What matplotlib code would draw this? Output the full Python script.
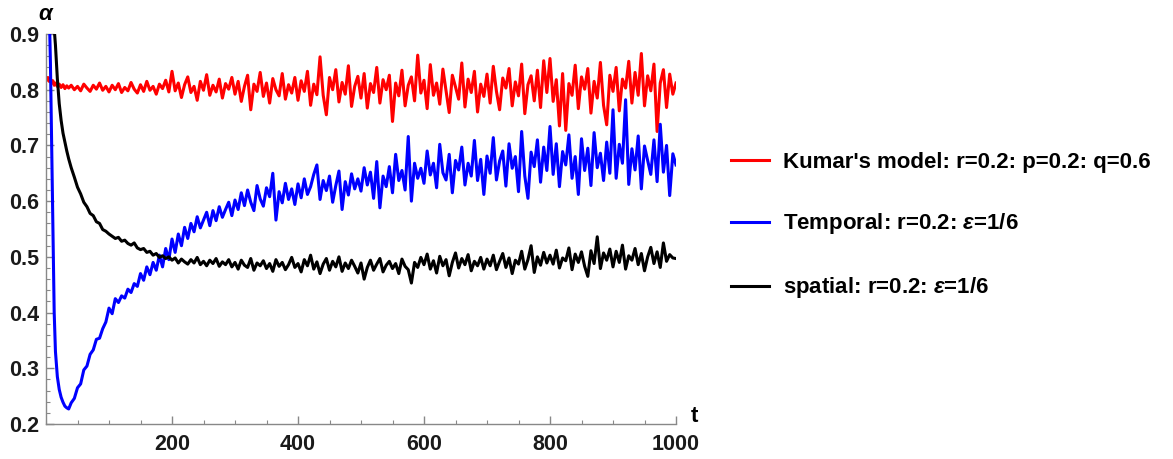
import numpy as np
import matplotlib
matplotlib.use("Agg")
import matplotlib.pyplot as plt
from matplotlib.ticker import MultipleLocator

plt.rcParams['font.family'] = ['Liberation Sans', 'DejaVu Sans']
plt.rcParams['font.weight'] = 'bold'
plt.rcParams['mathtext.fontset'] = 'custom'
plt.rcParams['mathtext.it'] = 'Liberation Sans:italic:bold'
plt.rcParams['mathtext.rm'] = 'Liberation Sans:bold'

# time steps: fine start, then every 5 steps up to 1000
t_head = [1, 3, 5, 7, 9, 11, 13, 15, 18, 21, 24, 27, 30, 33, 36]
t_body = list(range(40, 1001, 5))
t = np.array(t_head + t_body)

# Kumar's model (red)
kumar = [
    0.818, 0.822, 0.815, 0.820, 0.812, 0.816, 0.808, 0.812, 0.806, 0.810, 0.804, 0.809, 0.802, 0.807, 0.803,
    0.808, 0.800, 0.806, 0.798, 0.810, 0.803, 0.797, 0.808, 0.801, 0.812, 0.799, 0.806,
    0.796, 0.808, 0.800, 0.811, 0.795, 0.804, 0.798, 0.813, 0.801, 0.794, 0.809, 0.797, 0.815, 0.799, 0.806, 0.792, 0.810, 0.802, 0.817, 0.796,
    0.833, 0.798, 0.812, 0.786, 0.809, 0.823, 0.795, 0.806, 0.781, 0.815, 0.799, 0.827, 0.790, 0.808, 0.796, 0.819, 0.785, 0.811, 0.801, 0.822,
    0.792, 0.815, 0.779, 0.806, 0.826, 0.764, 0.810, 0.797, 0.831, 0.788, 0.812, 0.776, 0.820, 0.800, 0.789, 0.829, 0.783, 0.809, 0.794, 0.822,
    0.781, 0.816, 0.797, 0.833, 0.772, 0.810, 0.791, 0.859, 0.790, 0.755, 0.822, 0.800, 0.836, 0.778, 0.813, 0.792, 0.843, 0.770, 0.806, 0.824,
    0.785, 0.829, 0.767, 0.811, 0.795, 0.840, 0.776, 0.818, 0.800, 0.826, 0.743, 0.812, 0.789, 0.835, 0.771, 0.808, 0.823, 0.780, 0.862, 0.794,
    0.817, 0.766, 0.845, 0.790, 0.812, 0.774, 0.837, 0.798, 0.759, 0.826, 0.805, 0.783, 0.848, 0.769, 0.819, 0.795, 0.833, 0.760, 0.810, 0.788,
    0.828, 0.776, 0.842, 0.797, 0.764, 0.821, 0.803, 0.838, 0.771, 0.814, 0.789, 0.846, 0.757, 0.809, 0.825, 0.780, 0.835, 0.768, 0.852, 0.795,
    0.856, 0.779, 0.818, 0.735, 0.829, 0.727, 0.811, 0.790, 0.844, 0.766, 0.823, 0.801, 0.838, 0.758, 0.815, 0.785, 0.849, 0.772, 0.737, 0.826,
    0.797, 0.840, 0.762, 0.819, 0.803, 0.851, 0.776, 0.831, 0.790, 0.865, 0.771, 0.825, 0.798, 0.846, 0.725, 0.812, 0.836, 0.768, 0.828, 0.792,
    0.812,
]

# Temporal (blue)
temporal = [
    1.200, 1.100, 0.950, 0.850, 0.700, 0.550, 0.400, 0.330, 0.285, 0.262, 0.248, 0.239, 0.232, 0.229, 0.227,
    0.238, 0.246, 0.265, 0.272, 0.297, 0.304, 0.325, 0.333, 0.352, 0.354, 0.371, 0.383,
    0.408, 0.398, 0.425, 0.418, 0.430, 0.426, 0.442, 0.436, 0.452, 0.447, 0.470, 0.458, 0.482, 0.468, 0.490, 0.476, 0.503, 0.482, 0.515, 0.495,
    0.532, 0.508, 0.541, 0.520, 0.553, 0.533, 0.560, 0.545, 0.572, 0.552, 0.566, 0.580, 0.556, 0.583, 0.565, 0.590, 0.571, 0.585, 0.598, 0.574,
    0.602, 0.585, 0.615, 0.592, 0.620, 0.598, 0.583, 0.628, 0.604, 0.591, 0.624, 0.608, 0.650, 0.566, 0.617, 0.597, 0.632, 0.603, 0.622, 0.594,
    0.631, 0.606, 0.640, 0.612, 0.626, 0.648, 0.665, 0.603, 0.637, 0.619, 0.645, 0.598, 0.628, 0.654, 0.585, 0.635, 0.611, 0.649, 0.622, 0.640,
    0.618, 0.660, 0.629, 0.652, 0.605, 0.671, 0.588, 0.645, 0.626, 0.662, 0.615, 0.684, 0.637, 0.655, 0.620, 0.716, 0.600, 0.668, 0.641, 0.659,
    0.632, 0.690, 0.647, 0.668, 0.624, 0.702, 0.651, 0.638, 0.684, 0.615, 0.673, 0.656, 0.697, 0.629, 0.668, 0.645, 0.709, 0.637, 0.675, 0.612,
    0.681, 0.650, 0.714, 0.638, 0.672, 0.690, 0.627, 0.703, 0.659, 0.680, 0.617, 0.725, 0.645, 0.605, 0.688, 0.662, 0.710, 0.634, 0.697, 0.655,
    0.734, 0.648, 0.703, 0.626, 0.689, 0.665, 0.719, 0.641, 0.680, 0.612, 0.712, 0.655, 0.695, 0.628, 0.723, 0.660, 0.686, 0.637, 0.706, 0.650,
    0.764, 0.641, 0.702, 0.668, 0.782, 0.630, 0.694, 0.656, 0.717, 0.622, 0.699, 0.673, 0.648, 0.710, 0.635, 0.738, 0.652, 0.700, 0.610, 0.685,
    0.665,
]

# spatial (black)
spatial = [
    1.500, 1.350, 1.200, 1.100, 1.000, 0.950, 0.910, 0.880, 0.820, 0.775, 0.745, 0.722, 0.706, 0.690, 0.676,
    0.660, 0.643, 0.625, 0.613, 0.598, 0.590, 0.578, 0.574, 0.563, 0.560, 0.549, 0.546,
    0.541, 0.537, 0.533, 0.535, 0.528, 0.530, 0.524, 0.521, 0.525, 0.516, 0.513, 0.515, 0.508, 0.510, 0.503, 0.506, 0.499, 0.502, 0.497, 0.500,
    0.494, 0.498, 0.489, 0.496, 0.491, 0.487, 0.495, 0.489, 0.499, 0.486, 0.492, 0.484, 0.494, 0.488, 0.497, 0.483, 0.491, 0.486, 0.495, 0.482,
    0.490, 0.478, 0.494, 0.485, 0.481, 0.497, 0.476, 0.489, 0.484, 0.493, 0.479, 0.488, 0.474, 0.495, 0.483, 0.490, 0.477, 0.486, 0.499, 0.481,
    0.488, 0.473, 0.495, 0.484, 0.503, 0.478, 0.491, 0.470, 0.487, 0.497, 0.476, 0.492, 0.482, 0.500, 0.474, 0.489, 0.479, 0.494, 0.483, 0.471,
    0.489, 0.460, 0.481, 0.494, 0.476, 0.487, 0.497, 0.473, 0.485, 0.492, 0.479, 0.488, 0.470, 0.496, 0.483, 0.477, 0.453, 0.490, 0.481, 0.499,
    0.486, 0.505, 0.478, 0.493, 0.471, 0.501, 0.484, 0.495, 0.466, 0.490, 0.507, 0.480, 0.497, 0.486, 0.504, 0.475, 0.492, 0.484, 0.499, 0.478,
    0.496, 0.484, 0.503, 0.477, 0.492, 0.506, 0.481, 0.498, 0.470, 0.494, 0.487, 0.510, 0.478, 0.495, 0.520, 0.472, 0.500, 0.485, 0.508, 0.489,
    0.503, 0.487, 0.512, 0.480, 0.498, 0.493, 0.516, 0.477, 0.505, 0.490, 0.509, 0.483, 0.465, 0.511, 0.488, 0.536, 0.479, 0.507, 0.494, 0.514,
    0.482, 0.510, 0.490, 0.521, 0.478, 0.502, 0.494, 0.515, 0.486, 0.506, 0.475, 0.500, 0.517, 0.488, 0.509, 0.481, 0.525, 0.492, 0.504, 0.498,
    0.497,
]

labels = [
    "Kumar's model: r=0.2: p=0.2: q=0.6",
    r"Temporal: r=0.2: $\varepsilon$=1/6",
    r"spatial: r=0.2: $\varepsilon$=1/6",
]
colors = ['#ff0000', '#0000ff', '#000000']

fig = plt.figure(figsize=(11.73, 4.59), dpi=100)
ax = fig.add_axes([46 / 1173, 35 / 459, 630 / 1173, 390 / 459])

for y, c, lab in zip([kumar, temporal, spatial], colors, labels):
    ax.plot(t, y, color=c, lw=2.2, label=lab)

ax.set_xlim(0, 1000)
ax.set_ylim(0.2, 0.9)
ax.xaxis.set_minor_locator(MultipleLocator(50))
ax.yaxis.set_minor_locator(MultipleLocator(0.02))
ax.set_xticks([200, 400, 600, 800, 1000])
ax.set_yticks(np.arange(0.2, 0.91, 0.1))
ax.set_yticklabels(['0.2', '0.3', '0.4', '0.5', '0.6', '0.7', '0.8', '0.9'])

for s in ['top', 'right']:
    ax.spines[s].set_visible(False)
for s in ['left', 'bottom']:
    ax.spines[s].set_color('#888888')
    ax.spines[s].set_linewidth(1.0)

ax.tick_params(which='both', direction='in', color='#888888', labelsize=15.5,
               labelcolor='#1a1a1a')
ax.tick_params(which='major', length=6, width=1.0)
ax.tick_params(which='minor', length=3, width=0.8)
ax.tick_params(axis='x', which='major', pad=7)
ax.tick_params(axis='y', which='major', pad=5)

ax.text(0.0, 1.05, r'$\alpha$', transform=ax.transAxes, fontsize=16,
        ha='center', va='center')
ax.text(1.029, 0.02, 't', transform=ax.transAxes, fontsize=16,
        ha='center', va='center', fontweight='bold')

leg = ax.legend(loc='center left', bbox_to_anchor=(731 / 1173, 1 - 226 / 459),
                bbox_transform=fig.transFigure, frameon=False, fontsize=16,
                borderpad=0, borderaxespad=0, labelspacing=1.75,
                handlelength=1.7, handletextpad=0.64)
for ln in leg.get_lines():
    ln.set_linewidth(2.2)

fig.savefig('out.png', dpi=100)
